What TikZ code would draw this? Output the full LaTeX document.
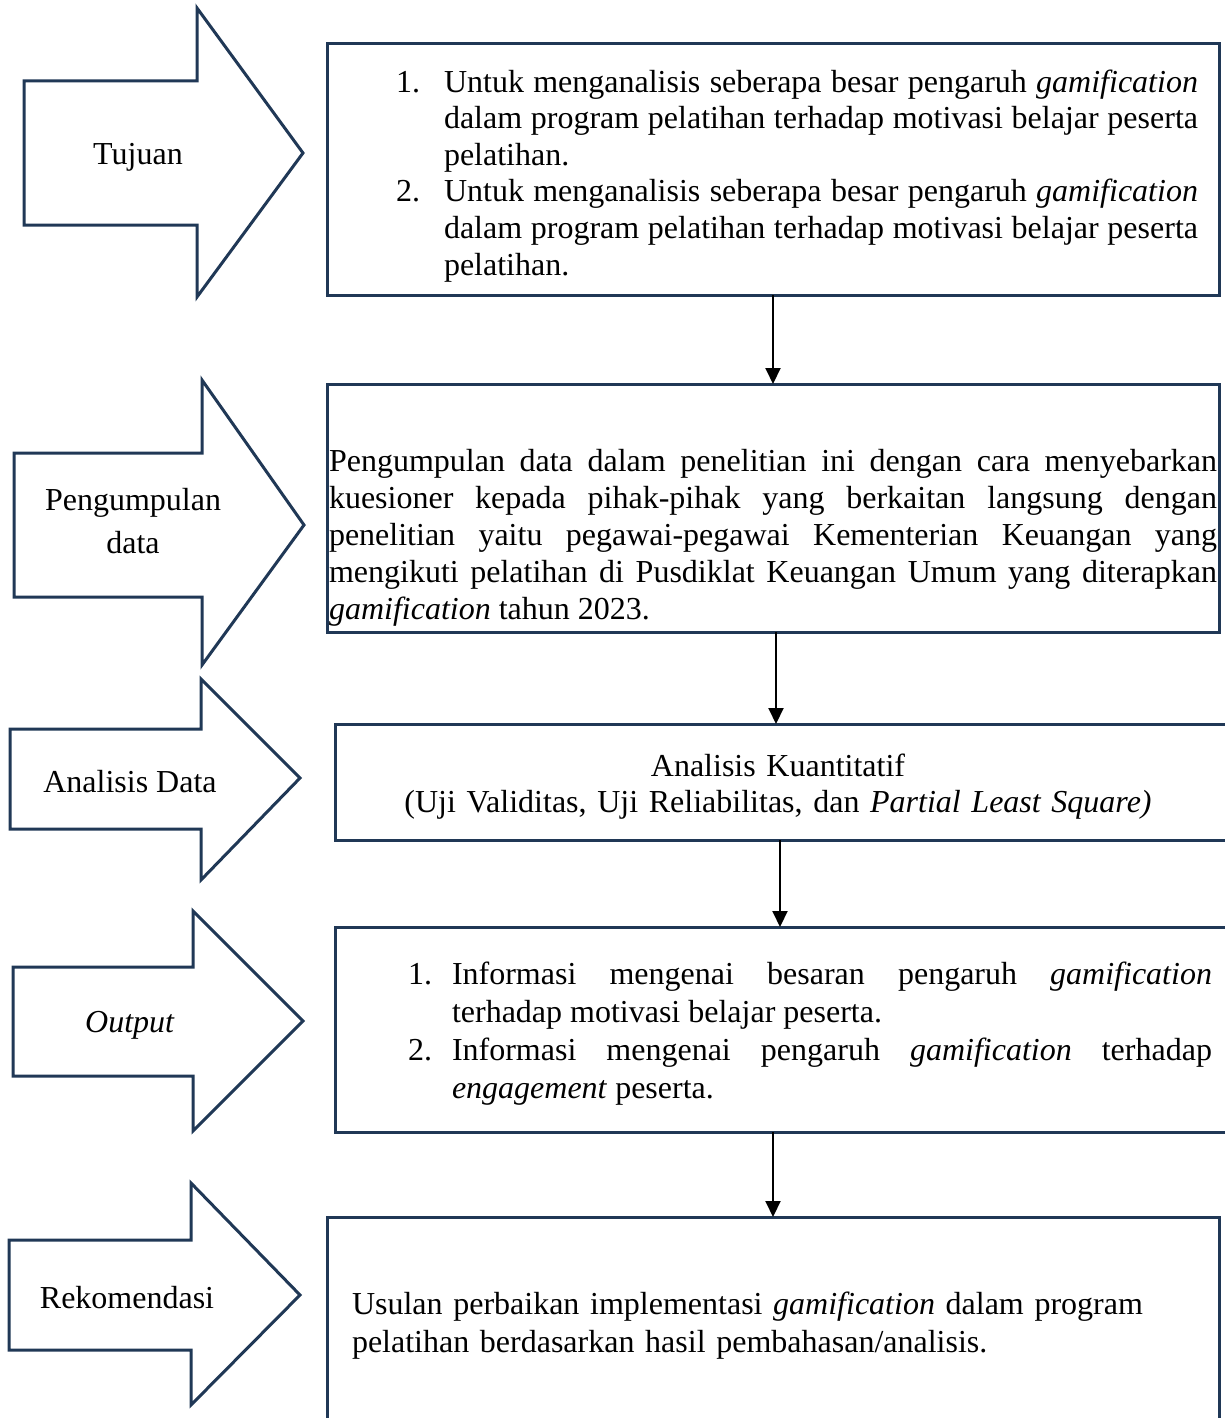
\documentclass[tikz,border=0pt]{standalone}
\usepackage{fontspec}
\setmainfont{Liberation Serif}
\usetikzlibrary{arrows.meta}
\definecolor{navy}{RGB}{32,56,86}
\begin{document}
\begin{tikzpicture}[x=0.5pt,y=-0.5pt,
  blk/.style={draw=navy,line width=1.5pt,line join=miter,fill=white},
  box/.style={draw=navy,line width=1.5pt,inner sep=0pt,outer sep=0pt,fill=white},
  conn/.style={draw=black,line width=1pt,-{Triangle[width=7.5pt,length=8pt]}},
  lbl/.style={font=\fontsize{16}{18.3}\selectfont,inner sep=0pt,align=center},
  txt/.style={font=\fontsize{16}{18.3}\selectfont,inner sep=0pt,outer sep=0pt}]
\useasboundingbox (0,0) rectangle (1225,1418);
\clip (0,0) rectangle (1225,1418);

% block arrows
\draw[blk] (24,81) -- (197,81) -- (197,8) -- (303,153) -- (197,297) -- (197,225) -- (24,225) -- cycle;
\draw[blk] (14,453) -- (202,453) -- (202,380) -- (304,525) -- (202,665) -- (202,597) -- (14,597) -- cycle;
\draw[blk] (10,729) -- (201,729) -- (201,679) -- (300,778) -- (201,880) -- (201,829) -- (10,829) -- cycle;
\draw[blk] (13,967) -- (193,967) -- (193,911) -- (303,1021) -- (193,1131) -- (193,1076) -- (13,1076) -- cycle;
\draw[blk] (9,1240) -- (191,1240) -- (191,1183) -- (300,1295) -- (191,1405) -- (191,1350) -- (9,1350) -- cycle;

\node[lbl] (l1) at (138,157) {Tujuan};
\node[lbl,font=\fontsize{16}{21.5}\selectfont] (l2) at (133,521) {Pengumpulan\\data};
\node[lbl] (l3) at (130,782) {Analisis Data};
\node[lbl] (l4) at (130,1025) {\textit{Output}};
\node[lbl] (l5) at (127,1298) {Rekomendasi};

% boxes
\node[box,minimum width=446pt,minimum height=125.5pt] (b1) at (773,169.5) {};
\node[box,minimum width=446pt,minimum height=124pt] (b2) at (773,508) {};
\node[box,minimum width=450pt,minimum height=58pt] (b3) at (785,782) {};
\node[box,minimum width=450pt,minimum height=102.5pt] (b4) at (785,1029.5) {};
\node[box,minimum width=446pt,minimum height=111.5pt] (b5) at (773,1328.5) {};

% texts
\node[txt,anchor=north west,text width=401pt,align=justify] (t1) at (396,66.4) {%
\hyphenpenalty=10000\exhyphenpenalty=10000
\noindent\hangindent=24pt\hangafter=1\strut\makebox[24pt][l]{1.}Untuk menganalisis seberapa besar pengaruh \textit{gamification}\linebreak dalam program pelatihan terhadap motivasi belajar peserta\linebreak pelatihan.\par
\noindent\hangindent=24pt\hangafter=1\strut\makebox[24pt][l]{2.}Untuk menganalisis seberapa besar pengaruh \textit{gamification}\linebreak dalam program pelatihan terhadap motivasi belajar peserta\linebreak pelatihan.\par};

\node[txt,anchor=north west,text width=444pt,align=justify,font=\fontsize{16}{18.6}\selectfont] (t2) at (329,445) {%
\hyphenpenalty=10000\exhyphenpenalty=10000
\noindent\strut Pengumpulan data dalam penelitian ini dengan cara menyebarkan\linebreak kuesioner kepada pihak-pihak yang berkaitan langsung dengan\linebreak penelitian yaitu pegawai-pegawai Kementerian Keuangan yang\linebreak mengikuti pelatihan di Pusdiklat Keuangan Umum yang diterapkan\linebreak \textit{gamification} tahun 2023.\par};

\node[txt,anchor=north,text width=420pt,align=center] (t3) at (778,750.4) {%
\strut Analisis Kuantitatif\\(Uji Validitas, Uji Reliabilitas, dan \textit{Partial Least Square)}};

\node[txt,anchor=north west,text width=402pt,align=justify,font=\fontsize{16}{18.9}\selectfont] (t4) at (408,958.5) {%
\hyphenpenalty=10000\exhyphenpenalty=10000
\noindent\hangindent=22pt\hangafter=1\strut\makebox[22pt][l]{1.}Informasi mengenai besaran pengaruh \textit{gamification}\linebreak terhadap motivasi belajar peserta.\par
\noindent\hangindent=22pt\hangafter=1\strut\makebox[22pt][l]{2.}Informasi mengenai pengaruh \textit{gamification} terhadap\linebreak \textit{engagement} peserta.\par};

\node[txt,anchor=north west,text width=440pt,align=left,font=\fontsize{16}{19}\selectfont] (t5) at (352,1288) {%
\strut Usulan perbaikan implementasi \textit{gamification} dalam program\\pelatihan berdasarkan hasil pembahasan/analisis.};

% connectors
\coordinate (c2) at ([xshift=1.5pt]b2.south);
\coordinate (c3) at ([xshift=-2.5pt]b3.south);
\draw[conn] (b1.south) -- (b2.north);
\draw[conn] (c2) -- (c2 |- b3.north);
\draw[conn] (c3) -- (c3 |- b4.north);
\draw[conn] (b5.north |- b4.south) -- (b5.north);
\end{tikzpicture}
\end{document}
